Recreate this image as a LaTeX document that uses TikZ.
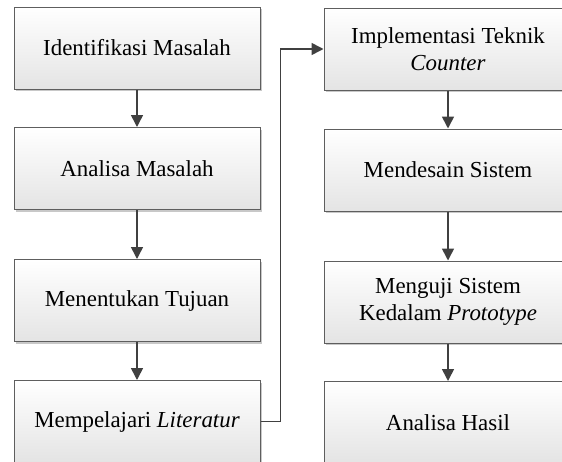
\documentclass[tikz,border=0pt]{standalone}
\usepackage{fontspec}
\setmainfont{Liberation Serif}
\usetikzlibrary{shadows,arrows.meta}
\definecolor{boxline}{HTML}{5E5E5E}
\definecolor{arrowc}{HTML}{404040}
\definecolor{boxbot}{HTML}{E4E4E4}
\definecolor{shadowc}{HTML}{C8C8C8}
\tikzset{
  stepbox/.style={rectangle, draw=boxline, line width=1pt,
    top color=white, bottom color=boxbot,
    minimum height=82pt, inner sep=0pt, align=center,
    font=\fontsize{22.9pt}{26.5pt}\selectfont,
    general shadow={fill=shadowc, shadow xshift=2pt, shadow yshift=-2pt}},
  leftbox/.style={stepbox, minimum width=246pt},
  rightbox/.style={stepbox, minimum width=248pt},
  arr/.style={draw=arrowc, line width=1.6pt,
    -{Triangle[length=12pt,width=12pt]}}
}
\begin{document}
\begin{tikzpicture}[x=1pt,y=-1pt]
\useasboundingbox (0,0) rectangle (562,461);
\clip (0,0) rectangle (562,461);
\node[leftbox] (L1) at (137,48) {Identifikasi Masalah};
\node[leftbox] (L2) at (137,168.5) {Analisa Masalah};
\node[leftbox] (L3) at (137,300.5) {Menentukan Tujuan};
\node[leftbox] (L4) at (137,421.5) {Mempelajari \textit{Literatur}};
\node[rightbox] (R1) at (448,49) {Implementasi Teknik\\\textit{Counter}};
\node[rightbox] (R2) at (448,170) {Mendesain Sistem};
\node[rightbox] (R3) at (448,302) {Menguji Sistem\\Kedalam \textit{Prototype}};
\node[rightbox] (R4) at (448,422.5) {Analisa Hasil};
\draw[arr] (L1) -- (L2);
\draw[arr] (L2) -- (L3);
\draw[arr] (L3) -- (L4);
\draw[arr] (R1) -- (R2);
\draw[arr] (R2) -- (R3);
\draw[arr] (R3) -- (R4);
\draw[arr] (L4.east) -- ++(20,0) |- (R1.west);
\end{tikzpicture}
\end{document}
